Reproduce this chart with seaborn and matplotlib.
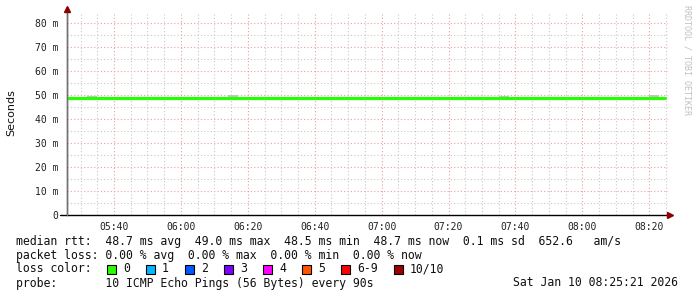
import matplotlib
matplotlib.use("Agg")
import matplotlib.pyplot as plt
from matplotlib.patches import Rectangle
import numpy as np
import pandas as pd
import seaborn as sns

# ---------------- data ----------------
start_min = 326          # 05:26 in minutes after midnight
step_min = 3             # minutes per sample
median_ms = [48.8, 48.8, 48.8, 48.8, 48.8, 48.8, 48.8, 48.8, 48.8, 48.6,
             48.6, 48.6, 48.8, 48.6, 48.6, 48.8, 48.8, 48.8, 48.8, 48.8,
             48.6, 48.8, 48.6, 48.8, 48.8, 48.8, 48.6, 48.9, 48.6, 48.8,
             48.8, 48.6, 48.8, 48.8, 48.6, 48.8, 48.6, 48.8, 48.8, 48.6,
             48.8, 48.8, 48.6, 48.8, 48.8, 48.8, 48.6, 48.8, 48.8, 48.6,
             48.8, 48.8, 48.6, 48.8, 48.8, 48.8, 48.6, 48.8, 48.8, 48.8]
smoke_hi = [49.0, 49.0, 49.7, 49.0, 49.0, 49.0, 49.0, 49.0, 49.0, 49.0,
            49.0, 49.0, 49.0, 49.0, 49.0, 49.0, 49.9, 49.0, 49.0, 49.0,
            49.0, 49.0, 49.0, 49.0, 49.0, 49.0, 49.0, 49.2, 49.0, 49.0,
            49.0, 49.0, 49.0, 49.0, 49.0, 49.0, 49.0, 49.0, 49.0, 49.0,
            49.0, 49.0, 49.0, 49.7, 49.0, 49.0, 49.0, 49.0, 49.0, 49.0,
            49.0, 49.0, 49.0, 49.0, 49.0, 49.0, 49.0, 49.0, 50.2, 49.0]
smoke_lo = [48.5, 48.5, 48.5, 48.5, 48.5, 48.5, 48.5, 48.5, 48.5, 48.4,
            48.4, 48.4, 48.5, 48.4, 48.4, 48.5, 48.5, 48.5, 48.5, 48.5,
            48.4, 48.5, 48.4, 48.5, 48.5, 48.5, 48.4, 48.5, 48.4, 47.9,
            48.5, 48.4, 48.5, 48.5, 48.4, 48.5, 47.9, 48.5, 48.5, 48.4,
            48.5, 48.5, 48.4, 48.5, 48.5, 48.5, 48.4, 48.5, 48.5, 48.4,
            48.5, 48.5, 48.4, 48.5, 48.5, 48.5, 48.4, 48.5, 48.5, 48.5]
y_ticks = [0, 10, 20, 30, 40, 50, 60, 70, 80]
y_labels = ["0", "10 m", "20 m", "30 m", "40 m", "50 m", "60 m", "70 m", "80 m"]
x_ticks = [340, 360, 380, 400, 420, 440, 460, 480, 500]
x_labels = ["05:40", "06:00", "06:20", "06:40", "07:00", "07:20", "07:40", "08:00", "08:20"]
loss_labels = ["0", "1", "2", "3", "4", "5", "6-9", "10/10"]
loss_colors = ["#26ff00", "#00b8ff", "#0059ff", "#7e00ff", "#ff00ff", "#ff5500", "#ff0000", "#a00000"]
stats_rtt = "median rtt:  48.7 ms avg  49.0 ms max  48.5 ms min  48.7 ms now  0.1 ms sd  652.6   am/s"
stats_loss = "packet loss: 0.00 % avg  0.00 % max  0.00 % min  0.00 % now"
probe_text = "probe:       10 ICMP Echo Pings (56 Bytes) every 90s"
date_text = "Sat Jan 10 08:25:21 2026"

# ---------------- figure ----------------
W, H = 697, 297
sns.set_style("white")
plt.rcParams["font.family"] = ["DejaVu Sans Mono", "DejaVu Sans"]
fig = plt.figure(figsize=(W / 100, H / 100), dpi=100)
fig.patch.set_facecolor("white")
ax = fig.add_axes([67 / W, 82 / H, 601 / W, 202 / H])
ax.set_facecolor("white")

n = len(median_ms)
t = [start_min + step_min * i for i in range(n)] + [start_min + step_min * n - 1.2]
med = median_ms + [median_ms[-1]]
hi = smoke_hi + [smoke_hi[-1]]
lo = smoke_lo + [smoke_lo[-1]]
df = pd.DataFrame({"t": t, "median": med})

ax.set_xlim(325.95, 505.6)
ax.set_ylim(0, 84.2)

# grid
for v in np.arange(5, 85, 5):
    major = (v % 10 == 0)
    ax.axhline(v, color="#e8a0a0" if major else "#c8c8c8", lw=0.8,
               ls=(0, (1, 2)), zorder=0)
for v in np.arange(330, 506, 5):
    major = ((v - 340) % 20 == 0)
    ax.axvline(v, color="#e8a0a0" if major else "#c8c8c8", lw=0.8,
               ls=(0, (1, 2)), zorder=0)

ax.fill_between(t, lo, hi, step="post", color="#c4c4c4", lw=0, zorder=2)
sns.lineplot(data=df, x="t", y="median", ax=ax, color="#26ff00", lw=2.3,
             drawstyle="steps-post", zorder=3, legend=False)

ax.set_xticks(x_ticks)
ax.set_xticklabels(x_labels)
ax.set_yticks(y_ticks)
ax.set_yticklabels(y_labels)
ax.tick_params(axis="both", length=0, labelsize=7, colors="#202020")
ax.tick_params(axis="x", pad=5)
ax.tick_params(axis="y", pad=6)
ax.set_xlabel("")
ax.set_ylabel("")

for s in ["top", "right"]:
    ax.spines[s].set_visible(False)
ax.spines["left"].set_color("#707070")
ax.spines["left"].set_linewidth(1)
ax.spines["bottom"].set_visible(False)
# x axis line extending a bit left and right
ax.plot([-0.012, 1.0], [0, 0], transform=ax.transAxes, color="black", lw=1,
        clip_on=False, zorder=5)
ax.plot([0, 0], [0, 1.01], transform=ax.transAxes, color="#707070", lw=1,
        clip_on=False, zorder=5)
# arrows
ax.plot([1.004], [0], marker=">", ms=4, color="#8b0000", transform=ax.transAxes,
        clip_on=False, zorder=6)
ax.plot([0], [1.022], marker="^", ms=4, color="#8b0000", transform=ax.transAxes,
        clip_on=False, zorder=6)

fig.text(11 / W, 1 - 113 / H, "Seconds", rotation=90, ha="center", va="center",
         fontsize=8, family="DejaVu Sans", color="#101010")
fig.text(687 / W, 1 - 60 / H, "RRDTOOL / TOBI OETIKER", rotation=270, ha="center",
         va="center", fontsize=6, color="#c0c0c0")

fs = 8.3
def row(y, s, x=16):
    fig.text(x / W, 1 - y / H, s, ha="left", va="center", fontsize=fs,
             color="#101010")

row(241, stats_rtt)
row(255, stats_loss)
row(269, "loss color:")
row(283, probe_text)
row(283, date_text, x=513)

x0 = 107
for lab, col in zip(loss_labels, loss_colors):
    fig.patches.append(Rectangle((x0 / W, 1 - 274 / H), 9 / W, 9 / H,
                                 transform=fig.transFigure, facecolor=col,
                                 edgecolor="black", lw=0.8))
    row(269, lab, x=x0 + 16)
    x0 = x0 + 16 + 7 * len(lab) + 16

fig.savefig("out.png", dpi=100)
